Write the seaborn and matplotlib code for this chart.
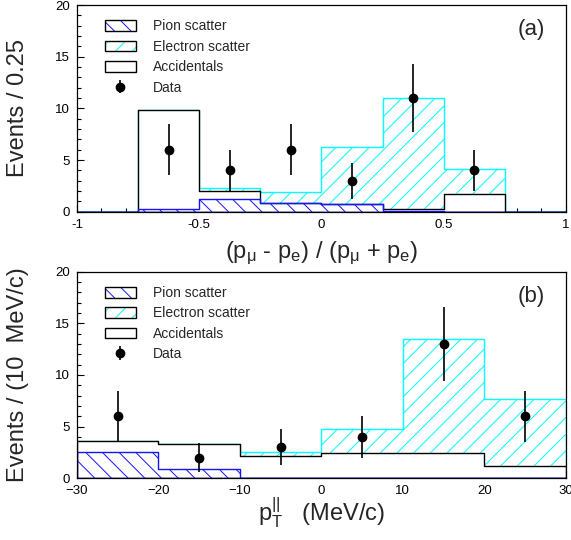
import numpy as np
import matplotlib
matplotlib.use("Agg")
import matplotlib.pyplot as plt
from matplotlib.patches import Patch
from matplotlib.ticker import MultipleLocator
import seaborn as sns

# ---- panel (a): momentum asymmetry, bins of 0.25 ----
asym_edges = [-1.0, -0.75, -0.5, -0.25, 0.0, 0.25, 0.5, 0.75, 1.0]
asym_centers = [-0.875, -0.625, -0.375, -0.125, 0.125, 0.375, 0.625, 0.875]
asym_pion = [0, 0.25, 1.25, 0.8, 0.75, 0.1, 0, 0]
asym_accidentals = [0, 9.55, 0.8, 0, 0, 0.15, 1.7, 0]
asym_electron = [0, 0.05, 0.25, 1.15, 5.55, 10.75, 2.45, 0]
asym_data_x = [-0.625, -0.375, -0.125, 0.125, 0.375, 0.625]
asym_data = [6, 4, 6, 3, 11, 4]
asym_data_err = [2.45, 2.0, 2.45, 1.73, 3.32, 2.0]

# ---- panel (b): pT parallel, bins of 10 MeV/c ----
pt_edges = [-30, -20, -10, 0, 10, 20, 30]
pt_centers = [-25, -15, -5, 5, 15, 25]
pt_pion = [2.5, 0.85, 0, 0, 0, 0]
pt_accidentals = [1.1, 2.45, 2.15, 2.45, 2.45, 1.2]
pt_electron = [0.05, 0.05, 0.4, 2.3, 11.05, 6.45]
pt_data_x = [-25, -15, -5, 5, 15, 25]
pt_data = [6, 2, 3, 4, 13, 6]
pt_data_err = [2.45, 1.41, 1.73, 2.0, 3.61, 2.45]

CYAN = "#00ffff"
BLUE = "#1414ff"

sns.set_theme(style="ticks")
plt.rcParams["font.family"] = ["Liberation Sans", "DejaVu Sans"]
plt.rcParams["mathtext.fontset"] = "custom"
plt.rcParams["mathtext.rm"] = "Liberation Sans"
plt.rcParams["mathtext.it"] = "Liberation Sans"
plt.rcParams["hatch.linewidth"] = 0.7


def draw_panel(ax, edges, centers, pion, acc, ele, dx, dy, derr):
    stack_acc = np.add(pion, acc)
    stack_tot = stack_acc + np.asarray(ele)
    # total (electron on top), accidentals + pion, pion alone
    layers = [
        (stack_tot, CYAN, "//", "white"),
        (stack_acc, "black", None, "white"),
        (np.asarray(pion), BLUE, "\\\\", "none"),
    ]
    for heights, ec, hatch, fc in layers:
        sns.histplot(x=centers, weights=heights, bins=edges, element="step",
                     fill=True, alpha=1, ax=ax, legend=False)
        poly = ax.collections[-1]
        poly.set_facecolor(fc)
        poly.set_edgecolor(ec)
        poly.set_linewidth(1.0)
        if hatch:
            poly.set_hatch(hatch)
    data = ax.errorbar(dx, dy, yerr=derr, fmt="o", color="black",
                       markersize=6, elinewidth=1.2, capsize=0, zorder=5)
    ax.set_ylim(0, 20)
    ax.set_xlim(edges[0], edges[-1])
    ax.yaxis.set_major_locator(MultipleLocator(5))
    ax.yaxis.set_minor_locator(MultipleLocator(1))
    ax.tick_params(which="both", direction="in", top=False, right=False,
                   labelsize=9.5, width=0.8, colors="black")
    ax.tick_params(which="major", length=5, pad=5)
    ax.tick_params(which="minor", length=2.7)
    for sp in ax.spines.values():
        sp.set_visible(True)
        sp.set_linewidth(0.9)
        sp.set_color("black")

    handles = [
        (Patch(facecolor="white", edgecolor=BLUE, hatch="\\\\", lw=0),
         Patch(facecolor="none", edgecolor="black", lw=1)),
        (Patch(facecolor="white", edgecolor=CYAN, hatch="//", lw=0),
         Patch(facecolor="none", edgecolor="black", lw=1)),
        Patch(facecolor="white", edgecolor="black", lw=1),
        data,
    ]
    labels = ["Pion scatter", "Electron scatter", "Accidentals", "Data"]
    ax.legend(handles, labels, loc="upper left", bbox_to_anchor=(0.043, 0.964),
              frameon=False, fontsize=10, borderpad=0, handlelength=2.23,
              handleheight=0.8, handletextpad=1.2, labelspacing=0.46)


fig = plt.figure(figsize=(5.71, 5.40), dpi=100)
ax_a = fig.add_axes([0.1349, 0.608, 0.856, 0.3826])
ax_b = fig.add_axes([0.1349, 0.1143, 0.856, 0.3826])

draw_panel(ax_a, asym_edges, asym_centers, asym_pion, asym_accidentals,
           asym_electron, asym_data_x, asym_data, asym_data_err)
ax_a.xaxis.set_major_locator(MultipleLocator(0.5))
ax_a.xaxis.set_minor_locator(MultipleLocator(0.1))
ax_a.xaxis.set_major_formatter(lambda v, p: f"{v:g}")
ax_a.set_xlabel(r"(p$_{\mu}$ - p$_{\rm e}$) / (p$_{\mu}$ + p$_{\rm e}$)", fontsize=17)
ax_a.set_ylabel("Events / 0.25", fontsize=17)
ax_a.text(0.93, 0.88, "(a)", transform=ax_a.transAxes, fontsize=16,
          ha="center", va="center")
ax_a.xaxis.set_label_coords(0.5, -0.224)

draw_panel(ax_b, pt_edges, pt_centers, pt_pion, pt_accidentals,
           pt_electron, pt_data_x, pt_data, pt_data_err)
ax_b.xaxis.set_major_locator(MultipleLocator(10))
ax_b.xaxis.set_minor_locator(MultipleLocator(2))
ax_b.set_xlabel(r"p$_{\rm T}^{\rm ||}$   (MeV/c)", fontsize=17)
ax_b.set_ylabel("Events / (10  MeV/c)", fontsize=17)
ax_b.text(0.93, 0.88, "(b)", transform=ax_b.transAxes, fontsize=16,
          ha="center", va="center")
ax_b.xaxis.set_label_coords(0.5, -0.211)

for ax in (ax_a, ax_b):
    ax.yaxis.set_label_coords(-0.098, 0.5)
    ax.xaxis.label.set_va("baseline")

fig.savefig("out.png", dpi=100)
